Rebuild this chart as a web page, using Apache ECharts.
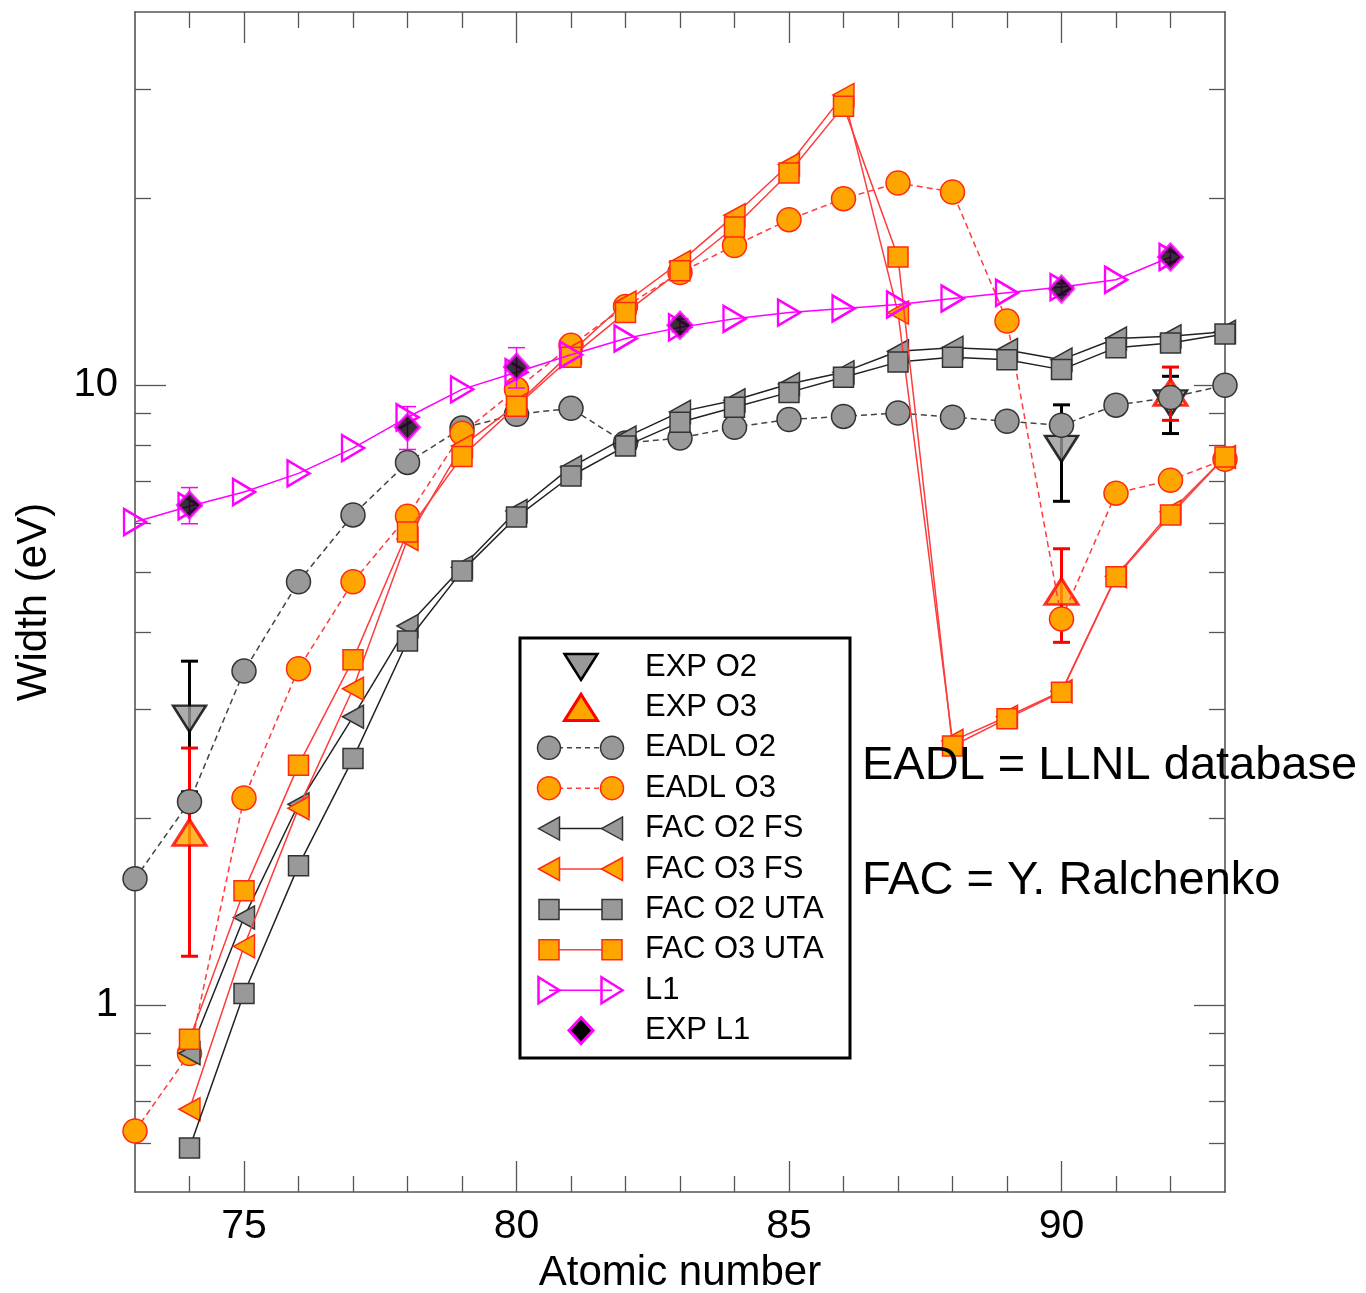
<!DOCTYPE html>
<html><head><meta charset="utf-8">
<script src="https://cdn.jsdelivr.net/npm/echarts@6/dist/echarts.min.js"></script>
<style>html,body{margin:0;padding:0;background:#fff}#c{width:1366px;height:1293px}</style>
</head><body><div id="c"></div>
<script>
// ---------------- DATA ----------------
const Z_73_93 = [73,74,75,76,77,78,79,80,81,82,83,84,85,86,87,88,89,90,91,92,93];
const Z_74_93 = [74,75,76,77,78,79,80,81,82,83,84,85,86,87,88,89,90,91,92,93];
const Z_73_92 = [73,74,75,76,77,78,79,80,81,82,83,84,85,86,87,88,89,90,91,92];

const EADL_O2 = [1.60, 2.13, 3.46, 4.82, 6.18, 7.51, 8.53, 8.98, 9.18, 8.07, 8.22, 8.56, 8.81, 8.91, 9.02, 8.88, 8.75, 8.62, 9.29, 9.56, 10.0];
const EADL_O3 = [0.627, 0.836, 2.16, 3.49, 4.82, 6.15, 8.37, 9.85, 11.6, 13.4, 15.2, 16.8, 18.5, 20.0, 21.2, 20.5, 12.7, 4.20, 6.70, 7.03, 7.60];
const FAC_O2_FS = [0.837, 1.386, 2.11, 2.92, 4.09, 5.09, 6.27, 7.38, 8.24, 9.06, 9.46, 10.05, 10.5, 11.35, 11.5, 11.4, 11.0, 11.9, 12.0, 12.2];
const FAC_O3_FS = [0.680, 1.245, 2.08, 3.24, 5.65, 7.98, 9.30, 11.3, 13.6, 15.8, 18.8, 22.7, 29.4, 13.1, 2.67, 2.92, 3.21, 4.92, 6.25, 7.66];
const FAC_O2_UTA = [0.589, 1.045, 1.68, 2.50, 3.87, 5.02, 6.13, 7.14, 7.98, 8.72, 9.22, 9.74, 10.3, 10.9, 11.1, 11.0, 10.6, 11.5, 11.7, 12.1];
const FAC_O3_UTA = [0.882, 1.53, 2.44, 3.61, 5.80, 7.68, 9.25, 11.1, 13.1, 15.3, 18.0, 22.0, 28.2, 16.1, 2.62, 2.90, 3.20, 4.91, 6.18, 7.66];
const L1 = [6.02, 6.38, 6.73, 7.21, 7.92, 8.88, 9.85, 10.5, 11.2, 11.9, 12.4, 12.8, 13.1, 13.3, 13.5, 13.8, 14.1, 14.4, 14.8, 16.1];

const EXP_L1_Z = [74, 78, 80, 83, 90, 92];
const EXP_L1 = [6.41, 8.56, 10.7, 12.5, 14.3, 16.1];
const EXP_L1_ERR = [0.43, 0.68, 0.8, 0.3, 0.3, 0.3];

const EXP_O2_Z = [74, 90, 92];
const EXP_O2 = [2.90, 7.90, 9.35];
const EXP_O2_ERR = [0.69, 1.40, 0.99];

const EXP_O3_Z = [74, 90, 92];
const EXP_O3 = [1.90, 4.65, 9.74];
const EXP_O3_ERR = [0.70, 0.80, 0.96];

const X_TICK_LABELS = [75, 80, 85, 90];
const X_MINOR_TICKS = [74, 76, 77, 78, 79, 81, 82, 83, 84, 86, 87, 88, 89, 91, 92];
const Y_TICK_LABELS = [1, 10];
const Y_MINOR_TICKS = [0.6, 0.7, 0.8, 0.9, 2, 3, 4, 5, 6, 7, 8, 9, 20, 30];

const SERIES_NAMES = ['EXP O2','EXP O3','EADL O2','EADL O3','FAC O2 FS','FAC O3 FS','FAC O2 UTA','FAC O3 UTA','L1','EXP L1'];
const NOTES = ['EADL = LLNL database', 'FAC = Y. Ralchenko'];
const X_NAME = 'Atomic number';
const Y_NAME = 'Width (eV)';

// ---------------- STYLE ----------------
const FONT = 'Liberation Sans, Arial, sans-serif';
const AX = '#555';
const GRAY = '#999999', DARK = '#333333';
const ORANGE = '#FFA500', RED = '#FF2a10', RED_LINE = '#FF3b3b';
const MAG = '#FF00FF';

function pairs(zs, vs){ return zs.map((z,i)=>[z, vs[i]]); }
function triples(zs, vs, es){ return zs.map((z,i)=>[z, vs[i], es[i]]); }

function xAx(pos, ticks, len, labels, withLine, name){
  const a = {type:'value', min:73, max:93, position:pos,
    axisLine:{show:withLine, onZero:false, lineStyle:{color:AX, width:1.6}},
    axisTick:{show:true, inside:true, length:len, customValues:ticks, lineStyle:{color:AX, width:1.3}},
    axisLabel:{show:!!labels, customValues:labels||[], fontSize:41, color:'#000', margin:14, fontFamily:FONT},
    splitLine:{show:false}, minorTick:{show:false}};
  if(name){ Object.assign(a,{name:name, nameLocation:'middle', nameGap:60, nameTextStyle:{fontSize:42, color:'#000', fontFamily:FONT}}); }
  return a;
}
function yAx(pos, ticks, len, labels, withLine, name){
  const a = {type:'log', logBase:10, min:0.5, max:40, position:pos,
    axisLine:{show:withLine, onZero:false, lineStyle:{color:AX, width:1.6}},
    axisTick:{show:true, inside:true, length:len, customValues:ticks, lineStyle:{color:AX, width:1.3}},
    axisLabel:{show:!!labels, customValues:labels||[], fontSize:40, color:'#000', margin:17, fontFamily:FONT},
    splitLine:{show:false}, minorTick:{show:false}};
  if(name){ Object.assign(a,{name:name, nameLocation:'middle', nameGap:80, nameRotate:90, nameTextStyle:{fontSize:42, color:'#000', fontFamily:FONT}}); }
  return a;
}

function errRender(capHalf, color, width){
  return function(params, api){
    const x = api.value(0), y = api.value(1), e = api.value(2);
    const t = api.coord([x, y+e]), b = api.coord([x, y-e]);
    const st = {stroke:color, lineWidth:width};
    return {type:'group', children:[
      {type:'line', shape:{x1:t[0], y1:t[1], x2:b[0], y2:b[1]}, style:st},
      {type:'line', shape:{x1:t[0]-capHalf, y1:t[1], x2:t[0]+capHalf, y2:t[1]}, style:st},
      {type:'line', shape:{x1:b[0]-capHalf, y1:b[1], x2:b[0]+capHalf, y2:b[1]}, style:st}
    ]};
  };
}

function lineSeries(name, data, symbol, size, rot, fill, border, bw, lcolor, ltype, z){
  return {name:name, type:'line', data:data, symbol:symbol, symbolSize:size, symbolRotate:rot,
    showSymbol:true, z:z,
    itemStyle:{color:fill, borderColor:border, borderWidth:bw, opacity:1},
    lineStyle:{color:lcolor, width:1.5, type:ltype, dashOffset:0},
    emphasis:{disabled:true}};
}

const series = [
  {name:'EXP O2 err', type:'custom', renderItem:errRender(8.5, '#000', 3), data:triples(EXP_O2_Z, EXP_O2, EXP_O2_ERR), encode:{x:0, y:1}, z:2, silent:true},
  {name:SERIES_NAMES[0], type:'scatter', data:pairs(EXP_O2_Z, EXP_O2), symbol:'triangle', symbolSize:[33,26], symbolRotate:180,
    itemStyle:{color:GRAY, borderColor:'#000', borderWidth:2.5}, z:3},
  {name:'EXP O3 err', type:'custom', renderItem:errRender(8.5, '#FF0000', 3), data:triples(EXP_O3_Z, EXP_O3, EXP_O3_ERR), encode:{x:0, y:1}, z:4, silent:true},
  {name:SERIES_NAMES[1], type:'scatter', data:pairs(EXP_O3_Z, EXP_O3), symbol:'triangle', symbolSize:[33,26],
    itemStyle:{color:ORANGE, borderColor:'#FF0000', borderWidth:3}, z:5},
  lineSeries(SERIES_NAMES[2], pairs(Z_73_93, EADL_O2), 'circle', 24, 0, GRAY, DARK, 1.5, '#444', [6,4], 6),
  lineSeries(SERIES_NAMES[3], pairs(Z_73_93, EADL_O3), 'circle', 24, 0, ORANGE, RED, 1.5, RED_LINE, [6,4], 7),
  lineSeries(SERIES_NAMES[4], pairs(Z_74_93, FAC_O2_FS), 'triangle', [23,21], 90, GRAY, DARK, 1.5, '#222', 'solid', 8),
  lineSeries(SERIES_NAMES[5], pairs(Z_74_93, FAC_O3_FS), 'triangle', [23,21], 90, ORANGE, RED, 1.5, RED_LINE, 'solid', 9),
  lineSeries(SERIES_NAMES[6], pairs(Z_74_93, FAC_O2_UTA), 'rect', 20, 0, GRAY, DARK, 1.5, '#222', 'solid', 10),
  lineSeries(SERIES_NAMES[7], pairs(Z_74_93, FAC_O3_UTA), 'rect', 20, 0, ORANGE, RED, 1.5, RED_LINE, 'solid', 11),
  lineSeries(SERIES_NAMES[8], pairs(Z_73_92, L1), 'triangle', [26,22], -90, 'rgba(255,255,255,0)', MAG, 2.5, MAG, 'solid', 12),
  {name:'EXP L1 err', type:'custom', renderItem:errRender(8.5, MAG, 1.5), data:triples(EXP_L1_Z, EXP_L1, EXP_L1_ERR), encode:{x:0, y:1}, z:13, silent:true},
  {name:SERIES_NAMES[9], type:'scatter', data:pairs(EXP_L1_Z, EXP_L1), symbol:'diamond', symbolSize:[24,26],
    itemStyle:{color:'#000', borderColor:MAG, borderWidth:3}, z:14}
];

// ---------------- LEGEND (graphic) ----------------
const LX0 = 520, LY0 = 638, LW = 330, LH = 420;
const ROW0 = 667, ROWH = 40.4, SYM_L = 549, SYM_R = 612, SYM_C = 581, TXT_X = 645;
function tri(cx, cy, base, len, dir){
  const b = base/2, l = len/2;
  if(dir==='up') return [[cx,cy-l],[cx+b,cy+l],[cx-b,cy+l]];
  if(dir==='down') return [[cx,cy+l],[cx+b,cy-l],[cx-b,cy-l]];
  if(dir==='left') return [[cx-l,cy],[cx+l,cy-b],[cx+l,cy+b]];
  return [[cx+l,cy],[cx-l,cy-b],[cx-l,cy+b]];
}
const legendStyle = [
  {kind:'single', shape:'tri', dir:'down', base:33, len:26, fill:GRAY, stroke:'#000', lw:2.5},
  {kind:'single', shape:'tri', dir:'up', base:33, len:26, fill:ORANGE, stroke:'#FF0000', lw:3},
  {kind:'pair', shape:'circle', r:11.5, fill:GRAY, stroke:DARK, lw:1.5, line:'#444', dash:[5,4]},
  {kind:'pair', shape:'circle', r:11.5, fill:ORANGE, stroke:RED, lw:1.5, line:RED_LINE, dash:[5,4]},
  {kind:'pair', shape:'tri', dir:'left', base:23, len:21, fill:GRAY, stroke:DARK, lw:1.5, line:'#222'},
  {kind:'pair', shape:'tri', dir:'left', base:23, len:21, fill:ORANGE, stroke:RED, lw:1.5, line:RED_LINE},
  {kind:'pair', shape:'rect', s:20, fill:GRAY, stroke:DARK, lw:1.5, line:'#222'},
  {kind:'pair', shape:'rect', s:20, fill:ORANGE, stroke:RED, lw:1.5, line:RED_LINE},
  {kind:'pair', shape:'tri', dir:'right', base:26, len:21, fill:'none', stroke:MAG, lw:2.5, line:MAG},
  {kind:'single', shape:'diamond', w:24, h:26, fill:'#000', stroke:MAG, lw:3}
];
function symEl(st, cx, cy){
  const style = {fill:st.fill, stroke:st.stroke, lineWidth:st.lw};
  if(st.shape==='circle') return {type:'circle', shape:{cx:cx, cy:cy, r:st.r}, style:style};
  if(st.shape==='rect') return {type:'rect', shape:{x:cx-st.s/2, y:cy-st.s/2, width:st.s, height:st.s}, style:style};
  if(st.shape==='diamond') return {type:'polygon', shape:{points:[[cx,cy-st.h/2],[cx+st.w/2,cy],[cx,cy+st.h/2],[cx-st.w/2,cy]]}, style:style};
  return {type:'polygon', shape:{points:tri(cx, cy, st.base, st.len, st.dir)}, style:style};
}
const graphics = [{type:'rect', shape:{x:LX0, y:LY0, width:LW, height:LH}, style:{fill:'#fff', stroke:'#000', lineWidth:3}, z:100}];
SERIES_NAMES.forEach((nm, i)=>{
  const y = ROW0 + i*ROWH, st = legendStyle[i];
  if(st.kind==='pair'){
    graphics.push({type:'line', shape:{x1:SYM_L, y1:y, x2:SYM_R, y2:y}, style:{stroke:st.line, lineWidth:1.5, lineDash:st.dash||null}, z:101});
    const a = symEl(st, SYM_L, y); a.z = 102; graphics.push(a);
    const b = symEl(st, SYM_R, y); b.z = 102; graphics.push(b);
  } else {
    const a = symEl(st, SYM_C, y); a.z = 102; graphics.push(a);
  }
  graphics.push({type:'text', x:TXT_X, y:y, style:{text:nm, font:'31px '+FONT, fill:'#000', verticalAlign:'middle', align:'left'}, z:103});
});
graphics.push({type:'text', x:862, y:766, style:{text:NOTES[0], font:'47px '+FONT, fill:'#000', verticalAlign:'middle', align:'left'}, z:103});
graphics.push({type:'text', x:862, y:881, style:{text:NOTES[1], font:'47px '+FONT, fill:'#000', verticalAlign:'middle', align:'left'}, z:103});

const option = {
  animation:false,
  backgroundColor:'#fff',
  grid:{left:135, top:12, width:1090, height:1180, containLabel:false, outerBoundsMode:'none'},
  xAxis:[
    xAx('bottom', X_MINOR_TICKS, 16, X_TICK_LABELS, true, X_NAME),
    xAx('bottom', X_TICK_LABELS, 31, null, false),
    xAx('top', X_MINOR_TICKS, 16, null, true),
    xAx('top', X_TICK_LABELS, 31, null, false)
  ],
  yAxis:[
    yAx('left', Y_MINOR_TICKS, 16, Y_TICK_LABELS, true, Y_NAME),
    yAx('left', Y_TICK_LABELS, 31, null, false),
    yAx('right', Y_MINOR_TICKS, 16, null, true),
    yAx('right', Y_TICK_LABELS, 31, null, false)
  ],
  series:series,
  graphic:graphics
};
const chart = echarts.init(document.getElementById('c'), null, {renderer:'canvas'});
chart.setOption(option);
</script>
</body></html>
